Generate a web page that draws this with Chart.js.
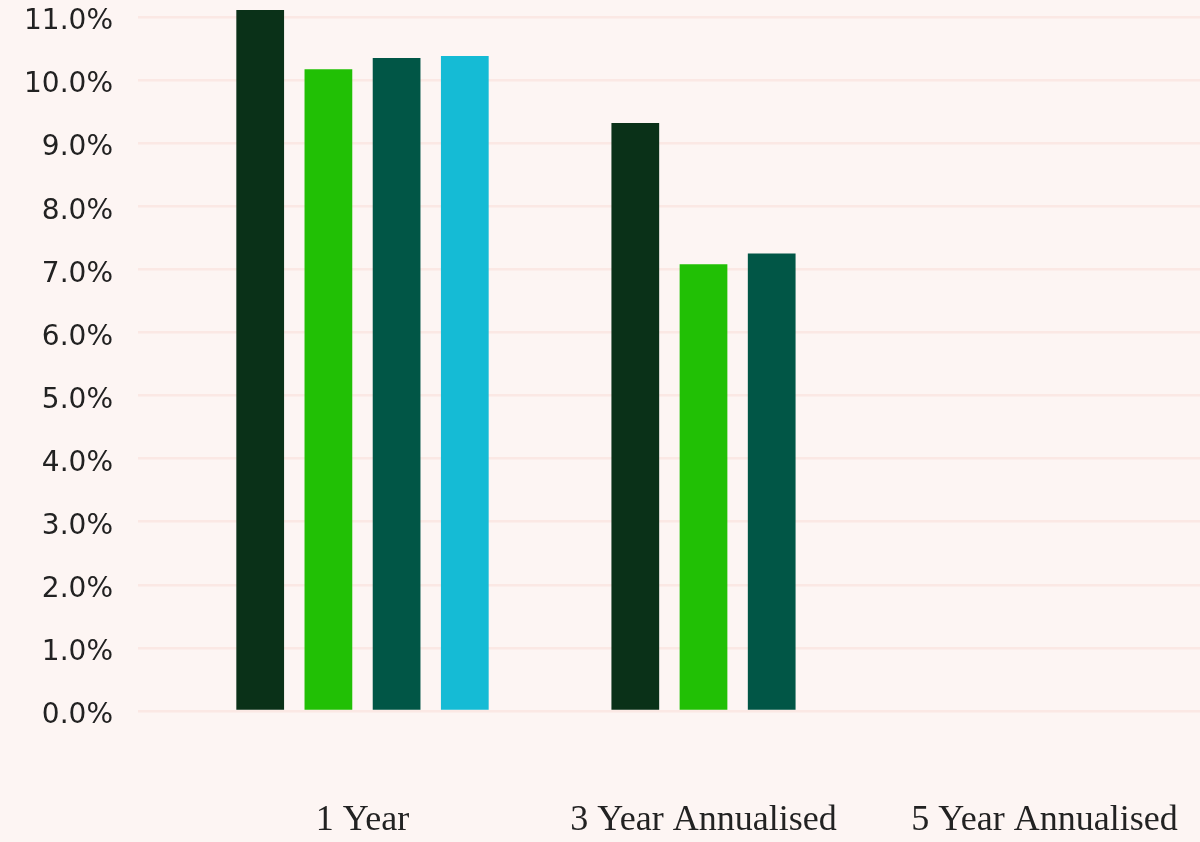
<!DOCTYPE html>
<html>
<head>
<meta charset="utf-8">
<title>Annualised returns</title>
<script src="https://cdn.jsdelivr.net/npm/chart.js@4"></script>
<style>
  html, body { margin: 0; padding: 0; background: #fdf5f3; overflow: hidden; }
  canvas { display: block; }
</style>
</head>
<body>
<canvas id="returnsChart" width="1215" height="842" style="width:1215px;height:842px"></canvas>
<script>
const periods = ['1 Year', '3 Year Annualised', '5 Year Annualised'];

const seriesA = [11.11, 9.32, null];
const seriesB = [10.17, 7.08, null];
const seriesC = [10.35, 7.25, null];
const seriesD = [10.38, null, null];

const colours = ['#0a3118', '#21c005', '#015646', '#15bbd5'];

const ctx = document.getElementById('returnsChart').getContext('2d');
const topValue = Math.max(...seriesA, ...seriesB, ...seriesC, ...seriesD);
const catPct = 0.8;

// keep bar width/spacing the same in every group, and centre groups with missing values
const recentreBars = {
  id: 'recentreBars',
  afterDatasetsUpdate(chart) {
    const xs = chart.scales.x;
    const sets = chart.data.datasets;
    const slot = (xs.getPixelForValue(1) - xs.getPixelForValue(0)) * catPct / sets.length;
    periods.forEach((p, i) => {
      const present = sets.map((d, di) => di).filter(di => sets[di].data[i] != null);
      present.forEach((di, rank) => {
        const el = chart.getDatasetMeta(di).data[i];
        el.x = xs.getPixelForValue(i) + (rank - (present.length - 1) / 2) * slot;
      });
    });
  }
};

const chart = new Chart(ctx, {
  type: 'bar',
  data: {
    labels: periods,
    datasets: [
      { label: 'Series A', data: seriesA, backgroundColor: colours[0] },
      { label: 'Series B', data: seriesB, backgroundColor: colours[1] },
      { label: 'Series C', data: seriesC, backgroundColor: colours[2] },
      { label: 'Series D', data: seriesD, backgroundColor: colours[3] }
    ]
  },
  options: {
    responsive: false,
    animation: false,
    barPercentage: 0.7,
    categoryPercentage: catPct,
    layout: { padding: { top: 10, bottom: 0, left: 0, right: 0 } },
    plugins: {
      legend: { display: false },
      tooltip: { enabled: false }
    },
    scales: {
      x: {
        grid: { display: false, drawTicks: false },
        border: { display: false },
        ticks: {
          color: '#222222',
          padding: 88,
          maxRotation: 0,
          autoSkip: false,
          font: { family: 'Liberation Serif', size: 36 }
        },
        afterFit: scale => {
          scale.height = 131;
          scale.paddingLeft = 0;
          scale.paddingRight = 0;
        }
      },
      y: {
        min: 0,
        max: topValue,
        grid: {
          color: '#fbe8e4',
          lineWidth: 2.5,
          drawTicks: true,
          tickLength: 54,
          tickColor: '#fbe8e4'
        },
        border: { display: false },
        ticks: {
          stepSize: 1,
          includeBounds: false,
          color: '#222222',
          padding: 25,
          labelOffset: 5,
          font: { family: 'DejaVu Sans', size: 28 },
          callback: v => v.toFixed(1) + '%'
        },
        afterFit: scale => {
          scale.width = 192;
          scale.paddingTop = 0;
          scale.paddingBottom = 0;
        }
      }
    }
  },
  plugins: [recentreBars]
});
</script>
</body>
</html>
